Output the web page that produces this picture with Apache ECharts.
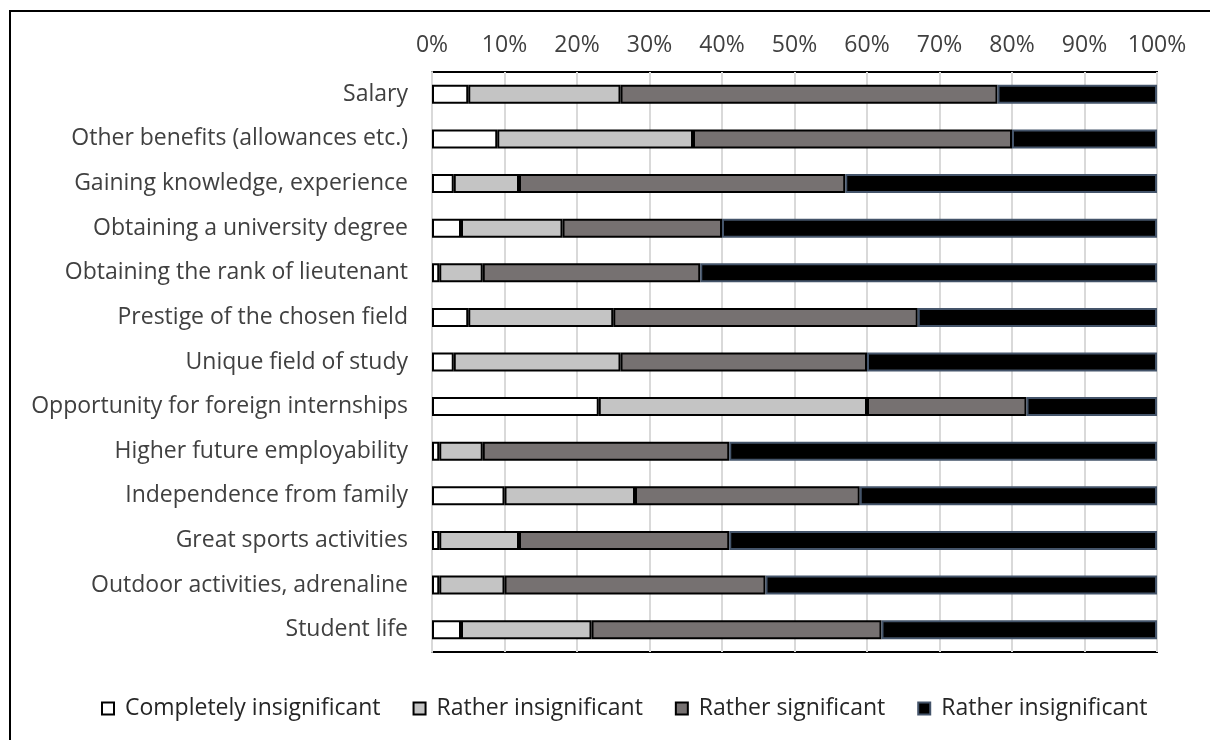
<!DOCTYPE html>
<html>
<head>
<meta charset="utf-8">
<script src="https://cdn.jsdelivr.net/npm/echarts@6/dist/echarts.min.js"></script>
<style>
  html, body { margin: 0; padding: 0; background: #fff; }
  #chart { width: 1210px; height: 740px; }
</style>
</head>
<body>
<div id="chart"></div>
<script>
var chartDom = document.getElementById('chart');
var myChart = echarts.init(chartDom);

var categories = [
    'Salary',
    'Other benefits (allowances etc.)',
    'Gaining knowledge, experience',
    'Obtaining a university degree',
    'Obtaining the rank of lieutenant',
    'Prestige of the chosen field',
    'Unique field of study',
    'Opportunity for foreign internships',
    'Higher future employability',
    'Independence from family',
    'Great sports activities',
    'Outdoor activities, adrenaline',
    'Student life'
];

var completelyInsignificant = [5, 9, 3, 4, 1, 5, 3, 23, 1, 10, 1, 1, 4];
var ratherInsignificant = [21, 27, 9, 14, 6, 20, 23, 37, 6, 18, 11, 9, 18];
var ratherSignificant = [52, 44, 45, 22, 30, 42, 34, 22, 34, 31, 29, 36, 40];
var veryImportant = [22, 20, 43, 60, 63, 33, 40, 18, 59, 41, 59, 54, 38];

var legendNames = ['Completely insignificant', 'Rather insignificant', 'Rather significant', 'Rather insignificant '];

var fontFamily = 'Open Sans';

function _plotFigure() {
    function makeSeries(name, data, color, border) {
        return {
            name: name,
            type: 'bar',
            stack: 'total',
            barWidth: 19,
            data: data,
            itemStyle: {
                color: color,
                borderColor: border,
                borderWidth: 2
            },
            emphasis: { disabled: true }
        };
    }

    let option = {
        animation: false,
        textStyle: { fontFamily: fontFamily },
        graphic: [{
            type: 'rect',
            shape: { x: 10, y: 11, width: 1400, height: 900 },
            style: { fill: 'none', stroke: '#000', lineWidth: 2 },
            silent: true
        }],
        legend: {
            data: legendNames,
            left: 96,
            top: 692,
            itemWidth: 12,
            itemHeight: 12,
            itemGap: 32,
            icon: 'rect',
            textStyle: { fontFamily: fontFamily, fontSize: 23, color: '#262626', padding: [0, 0, 0, 6] }
        },
        grid: {
            left: 432,
            right: 53,
            top: 72,
            bottom: 88,
            show: true,
            borderColor: '#000',
            borderWidth: 2
        },
        xAxis: {
            type: 'value',
            position: 'top',
            min: 0,
            max: 100,
            interval: 10,
            axisLine: { show: false },
            axisTick: { show: false },
            axisLabel: {
                formatter: '{value}%',
                fontFamily: fontFamily,
                fontSize: 23,
                color: '#404040',
                margin: 15
            },
            splitLine: { show: true, lineStyle: { color: '#d9d9d9', width: 2 } }
        },
        yAxis: {
            type: 'category',
            inverse: true,
            data: categories,
            axisLine: { show: true, lineStyle: { color: '#d9d9d9', width: 2 } },
            axisTick: { show: false },
            axisLabel: {
                fontFamily: fontFamily,
                fontSize: 23,
                color: '#404040',
                margin: 24
            }
        },
        series: [
            makeSeries(legendNames[0], completelyInsignificant, '#ffffff', '#000000'),
            makeSeries(legendNames[1], ratherInsignificant, '#c4c4c4', '#000000'),
            makeSeries(legendNames[2], ratherSignificant, '#767171', '#000000'),
            makeSeries(legendNames[3], veryImportant, '#000000', '#44546a')
        ]
    };

    myChart.setOption(option);
}

_plotFigure();
</script>
</body>
</html>
